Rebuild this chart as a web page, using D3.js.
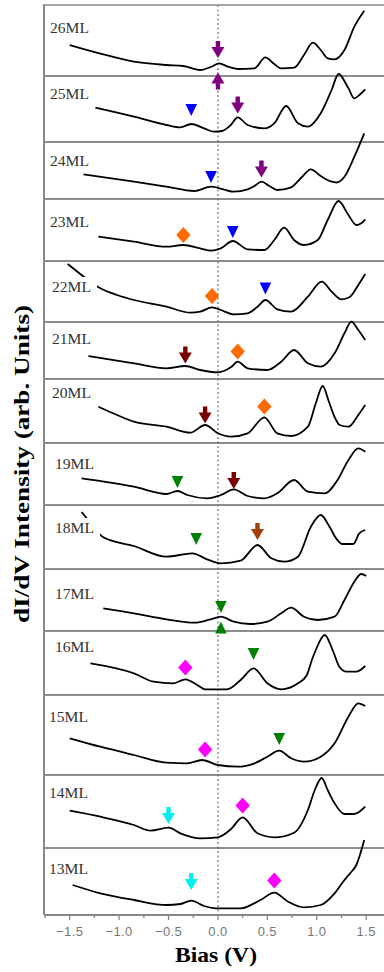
<!DOCTYPE html>
<html lang="en">
<head>
<meta charset="UTF-8">
<title>dI/dV spectra vs thickness</title>
<script src="https://d3js.org/d3.v7.min.js"></script>
<style>
    body { margin: 0; background: white; }
    svg { display: block; }
    .ml-label { font-family: "Liberation Serif", "Times New Roman", serif; font-size: 14px; fill: #333; }
    .tick-label { font-family: "Liberation Sans", Arial, sans-serif; font-size: 13px; fill: #777; letter-spacing: 0.4px; }
    .axis-title { font-family: "Liberation Serif", "Times New Roman", serif; font-weight: bold; font-size: 21px; fill: #000; }
</style>
</head>
<body>
<div id="chart"></div>
<script>
    // ---- data (bias in V, intensity in arb. units) ----
    const layers = ["26ML", "25ML", "24ML", "23ML", "22ML", "21ML", "20ML", "19ML", "18ML", "17ML", "16ML", "15ML", "14ML", "13ML"];
    const biasTicks = [-1.5, -1.0, -0.5, 0.0, 0.5, 1.0, 1.5];
    const minorTicks = [-1.75, -1.25, -0.75, -0.25, 0.25, 0.75, 1.25];

    const s26 = [[-1.50,31],[-1.20,22.7],[-0.85,14.3],[-0.52,11],[-0.35,10],[-0.18,6],[-0.05,10],[0.01,12.7],[0.10,9.3],[0.20,7],[0.37,7.7],[0.48,18.7],[0.56,12.7],[0.64,7.7],[0.77,8.3],[0.87,21],[0.96,33.3],[1.04,26],[1.11,17.7],[1.18,16.7],[1.28,26],[1.38,49.3],[1.48,65.3]];
    const s25 = [[-1.24,34.3],[-0.85,25.3],[-0.52,17],[-0.38,14.7],[-0.27,18],[-0.14,13.7],[-0.04,10.3],[0.04,11],[0.13,17],[0.20,24.7],[0.30,17],[0.47,13.7],[0.57,18.7],[0.69,36],[0.81,18.7],[0.91,15.3],[1.04,28.7],[1.15,52],[1.22,68],[1.32,53.7],[1.38,43.7],[1.43,47],[1.49,52.7]];
    const s24 = [[-1.36,24.7],[-0.85,17.3],[-0.52,12.3],[-0.24,8],[-0.07,12.3],[0.16,7.3],[0.30,9.7],[0.37,13],[0.44,17.3],[0.52,13],[0.60,9],[0.74,11.7],[0.84,21],[0.94,29.7],[1.04,23],[1.15,17.3],[1.20,16.5],[1.28,22.3],[1.38,42.3],[1.48,65.7]];
    const s23 = [[-1.21,24.3],[-0.85,19.3],[-0.52,14.3],[-0.35,16],[-0.18,12.7],[-0.07,10.3],[0.03,12.7],[0.15,20],[0.30,11.7],[0.47,11],[0.57,21],[0.67,33.3],[0.77,21],[0.87,16],[1.01,21],[1.11,41],[1.22,60],[1.32,46],[1.40,36],[1.45,37.7],[1.49,41.7]];
    const s22 = [[-1.52,58],[-1.38,47],[-1.29,40.3],[-1.19,33.7],[-1.02,27],[-0.85,22],[-0.52,15.3],[-0.28,9.3],[-0.18,10.3],[-0.06,14.7],[0.03,12],[0.16,7.7],[0.30,8.7],[0.40,15.3],[0.48,22],[0.60,12.7],[0.74,10.3],[0.91,25.3],[1.05,40.3],[1.15,30.3],[1.25,22.7],[1.33,24.7],[1.42,37],[1.49,48]];
    const s21 = [[-1.31,23],[-0.85,15.7],[-0.52,10.7],[-0.33,13],[-0.18,9],[0,6.7],[0.13,11.7],[0.20,17.3],[0.30,10.7],[0.50,9],[0.64,17.3],[0.77,29],[0.91,15.7],[1.04,12.3],[1.18,25.7],[1.28,45.7],[1.35,57.3],[1.42,49],[1.49,39]];
    const s20 = [[-1.21,36.3],[-1.02,28],[-0.85,21.3],[-0.52,16.3],[-0.28,10.3],[-0.13,18],[0,9.7],[0.13,6.3],[0.30,9.7],[0.47,25.7],[0.60,9.7],[0.74,7],[0.91,16.3],[0.99,39.7],[1.06,57],[1.12,42],[1.18,26],[1.23,18],[1.32,16.3],[1.42,28],[1.49,38]];
    const s19 = [[-1.38,26.7],[-0.85,18.3],[-0.52,11],[-0.41,14],[-0.31,10],[-0.11,6.7],[0.03,10],[0.16,15.7],[0.30,9],[0.47,6.7],[0.60,11.7],[0.77,25],[0.91,13.3],[1.08,11.7],[1.21,25],[1.32,45],[1.42,56.7],[1.49,53.3]];
    const s18 = [[-1.38,57],[-1.33,51],[-1.16,31.7],[-0.85,23],[-0.52,12.3],[-0.26,15.7],[-0.11,9.7],[0.03,5.7],[0.23,8.3],[0.40,24],[0.54,10.7],[0.67,7.3],[0.81,12.3],[0.94,42.3],[1.04,54],[1.13,42],[1.20,30],[1.26,25],[1.37,25],[1.43,35.7],[1.49,39]];
    const s17 = [[-1.16,22.7],[-0.85,17.7],[-0.52,11.7],[-0.24,8.3],[-0.04,12.7],[0.03,14.3],[0.16,9.3],[0.33,7],[0.50,9.3],[0.64,17.7],[0.74,23.3],[0.87,14.3],[1.01,11],[1.18,14.3],[1.28,31],[1.38,49.3],[1.45,57],[1.50,55]];
    const s16 = [[-1.29,31.7],[-0.85,21.7],[-0.65,13.3],[-0.45,11.7],[-0.33,15.7],[-0.21,10],[-0.13,5.7],[0.09,5.7],[0.23,15],[0.36,26.7],[0.50,11.7],[0.64,5.7],[0.81,11.7],[0.90,20],[0.95,35],[0.99,45],[1.08,60],[1.16,45],[1.23,28],[1.30,23.3],[1.40,23.3],[1.49,29]];
    const s15 = [[-1.50,36.7],[-1.19,28.3],[-0.85,20],[-0.52,12.3],[-0.31,11.7],[-0.16,15],[0,10],[0.20,8.3],[0.37,11.7],[0.50,18.3],[0.62,24.3],[0.74,16.7],[0.87,13.3],[1.04,18.3],[1.18,31.7],[1.32,58.3],[1.42,71.7],[1.49,69]];
    const s14 = [[-1.50,37.3],[-1.19,31.3],[-0.85,23],[-0.68,17.3],[-0.50,20.3],[-0.38,14.7],[-0.18,9.7],[0,10.7],[0.13,18.7],[0.25,30.7],[0.40,14.7],[0.57,10.7],[0.77,15.3],[0.91,38],[0.98,58],[1.05,70],[1.11,58],[1.18,44.7],[1.28,34],[1.38,34],[1.49,41.3]];
    const s13 = [[-1.47,30],[-1.19,21.7],[-0.85,15],[-0.52,10],[-0.38,11],[-0.27,14.3],[-0.14,9],[-0.02,6.7],[0.23,6.7],[0.43,15],[0.57,22.3],[0.71,13.3],[0.87,7.7],[1.04,10],[1.18,21.7],[1.28,35],[1.34,42],[1.40,50],[1.48,75]];
    const spectra = [s26, s25, s24, s23, s22, s21, s20, s19, s18, s17, s16, s15, s14, s13];

    // peak markers: bias, intensity, feature kind
    const m26 = [{ v: 0.00, h: 26.5, kind: "P" }];
    const m25 = [{ v: 0.00, h: 61, kind: "Pu" }, { v: -0.27, h: 32, kind: "B" }, { v: 0.20, h: 37, kind: "P" }];
    const m24 = [{ v: -0.07, h: 22, kind: "B" }, { v: 0.44, h: 30, kind: "P" }];
    const m23 = [{ v: -0.35, h: 26, kind: "O" }, { v: 0.15, h: 29, kind: "B" }];
    const m22 = [{ v: -0.06, h: 26, kind: "O" }, { v: 0.48, h: 33.5, kind: "B" }];
    const m21 = [{ v: -0.33, h: 24, kind: "M" }, { v: 0.20, h: 27.5, kind: "O" }];
    const m20 = [{ v: -0.13, h: 28, kind: "M" }, { v: 0.47, h: 36.5, kind: "O" }];
    const m19 = [{ v: -0.41, h: 23, kind: "G" }, { v: 0.16, h: 24.5, kind: "M" }];
    const m18 = [{ v: -0.22, h: 30, kind: "G" }, { v: 0.40, h: 37.5, kind: "R" }];
    const m17 = [{ v: 0.03, h: 24, kind: "G" }, { v: 0.03, h: 3.5, kind: "Gu" }];
    const m16 = [{ v: -0.33, h: 27.5, kind: "K" }, { v: 0.36, h: 41, kind: "G" }];
    const m15 = [{ v: -0.13, h: 25.5, kind: "K" }, { v: 0.62, h: 36, kind: "G" }];
    const m14 = [{ v: -0.50, h: 32.5, kind: "C" }, { v: 0.25, h: 42.5, kind: "K" }];
    const m13 = [{ v: -0.27, h: 33.5, kind: "C" }, { v: 0.57, h: 34.5, kind: "K" }];
    const markers = [m26, m25, m24, m23, m22, m21, m20, m19, m18, m17, m16, m15, m14, m13];

    // ---- layout & styles ----
    const W = 384, H = 972;
    const left = 44, right = 384;
    const panelEdges = [5, 76, 142, 199, 261, 322, 379, 443, 505, 569, 631, 695, 775, 848, 915];
    const labelX = [50, 50, 50, 50, 52, 52, 52, 55, 55, 55, 55, 49, 49, 49];
    const labelDy = [28, 23, 24, 28, 31, 22, 19, 26, 28, 30, 21, 27, 23, 26];

    const shapes = {
        arrowDown: "M-2.2,-8.5L2.2,-8.5L2.2,-2.5L6.5,-2.5L0,8.5L-6.5,-2.5L-2.2,-2.5Z",
        arrowUp: "M-2.2,8.5L2.2,8.5L2.2,2.5L6.5,2.5L0,-8.5L-6.5,2.5L-2.2,2.5Z",
        triDown: "M-5.8,-6L5.8,-6L0,6Z",
        triUp: "M-5.8,6L5.8,6L0,-6Z",
        diamond: "M0,-8L7.2,0L0,8L-7.2,0Z"
    };
    const kindStyle = {
        P: { shape: "arrowDown", color: "#800080" },
        Pu: { shape: "arrowUp", color: "#800080" },
        B: { shape: "triDown", color: "#0000ff" },
        O: { shape: "diamond", color: "#ff6a00" },
        M: { shape: "arrowDown", color: "#7a0000" },
        G: { shape: "triDown", color: "#008000" },
        Gu: { shape: "triUp", color: "#008000" },
        R: { shape: "arrowDown", color: "#a3400e" },
        K: { shape: "diamond", color: "#ff00ff" },
        C: { shape: "arrowDown", color: "#00f0f0" }
    };

    const svg = d3.select("#chart").append("svg")
        .attr("width", W)
        .attr("height", H);

    const x = d3.scaleLinear().domain([-1.76, 1.68]).range([left, right]);
    const plotTop = panelEdges[0], plotBottom = panelEdges[panelEdges.length - 1];

    // zero-bias guide
    svg.append("line")
        .attr("x1", x(0)).attr("x2", x(0))
        .attr("y1", plotTop).attr("y2", plotBottom)
        .attr("stroke", "#777")
        .attr("stroke-width", 1.3)
        .attr("stroke-dasharray", "2,2.5");

    // panel separators
    svg.append("g")
        .selectAll("line")
        .data(panelEdges.slice(0, -1))
        .enter().append("line")
        .attr("x1", left).attr("x2", right)
        .attr("y1", d => d).attr("y2", d => d)
        .attr("stroke", (d, i) => i === 0 ? "#888" : "#666")
        .attr("stroke-width", 1.5);

    // spectra
    const panels = svg.append("g")
        .selectAll("g")
        .data(layers)
        .enter().append("g");

    panels.each(function (name, i) {
        const g = d3.select(this);
        const bottom = panelEdges[i + 1];
        const y = d3.scaleLinear().domain([0, 100]).range([bottom, bottom - 100]);

        const line = d3.line()
            .x(d => x(d[0]))
            .y(d => y(d[1]))
            .curve(d3.curveMonotoneX);

        g.append("path")
            .datum(spectra[i])
            .attr("d", line)
            .attr("fill", "none")
            .attr("stroke", "#000")
            .attr("stroke-width", 1.8)
            .attr("stroke-linejoin", "round");

        // label sits on a white box that hides the curve behind it
        const label = g.append("text")
            .attr("class", "ml-label")
            .attr("x", labelX[i])
            .attr("y", panelEdges[i] + labelDy[i])
            .attr("textLength", 39)
            .attr("lengthAdjust", "spacingAndGlyphs")
            .text(name);
        const bb = label.node().getBBox();
        g.insert("rect", "text")
            .attr("x", bb.x - 4)
            .attr("y", bb.y - 3)
            .attr("width", bb.width + 10)
            .attr("height", bb.height + 6)
            .attr("fill", "white");

        g.selectAll("path.marker")
            .data(markers[i])
            .enter().append("path")
            .attr("class", "marker")
            .attr("d", d => shapes[kindStyle[d.kind].shape])
            .attr("fill", d => kindStyle[d.kind].color)
            .attr("transform", d => `translate(${x(d.v)},${y(d.h)})`);
    });

    // left frame line
    svg.append("line")
        .attr("x1", left).attr("x2", left)
        .attr("y1", plotTop - 0.75).attr("y2", plotBottom)
        .attr("stroke", "#888")
        .attr("stroke-width", 2);

    // bottom axis
    const axis = svg.append("g").attr("transform", `translate(0,${plotBottom})`);
    axis.append("line")
        .attr("x1", left).attr("x2", right)
        .attr("stroke", "#888")
        .attr("stroke-width", 2);
    axis.selectAll("line.major")
        .data(biasTicks)
        .enter().append("line")
        .attr("class", "major")
        .attr("x1", d => x(d)).attr("x2", d => x(d))
        .attr("y1", 0).attr("y2", 5)
        .attr("stroke", "#888").attr("stroke-width", 1.3);
    axis.selectAll("line.minor")
        .data(minorTicks)
        .enter().append("line")
        .attr("class", "minor")
        .attr("x1", d => x(d)).attr("x2", d => x(d))
        .attr("y1", 0).attr("y2", 3)
        .attr("stroke", "#888").attr("stroke-width", 1.3);
    axis.selectAll("text")
        .data(biasTicks)
        .enter().append("text")
        .attr("class", "tick-label")
        .attr("x", d => x(d))
        .attr("y", 21)
        .attr("text-anchor", "middle")
        .text(d => d3.format(".1f")(d));

    // axis titles
    svg.append("text")
        .attr("class", "axis-title")
        .attr("x", 216)
        .attr("y", 962)
        .attr("text-anchor", "middle")
        .attr("textLength", 82)
        .attr("lengthAdjust", "spacingAndGlyphs")
        .text("Bias (V)");

    svg.append("text")
        .attr("class", "axis-title")
        .attr("transform", "translate(29,464) rotate(-90)")
        .attr("text-anchor", "middle")
        .attr("textLength", 318)
        .attr("lengthAdjust", "spacingAndGlyphs")
        .text("dI/dV Intensity (arb. Units)");
</script>
</body>
</html>
